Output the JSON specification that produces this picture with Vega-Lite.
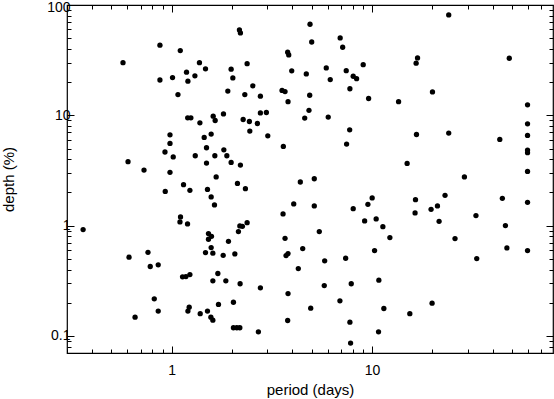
{
  "$schema": "https://vega.github.io/schema/vega-lite/v6.json",
  "width": 486,
  "height": 348,
  "autosize": {"type": "none"},
  "padding": {"left": 67, "top": 5, "right": 1, "bottom": 46},
  "background": "white",
  "config": {
    "view": {"stroke": "black", "strokeWidth": 1.2},
    "axis": {
      "domain": false, "grid": false, "tickColor": "black", "tickWidth": 1,
      "labelColor": "black", "labelFont": "Liberation Sans", "labelFontSize": 14,
      "titleFont": "Liberation Sans", "titleFontSize": 15, "titleFontWeight": "normal", "titleColor": "black"
    }
  },
  "data": {"values": [
    {"p":0.873,"d":43.2},{"p":1.103,"d":38.6},{"p":0.571,"d":30.0},{"p":1.185,"d":24.6},{"p":0.873,"d":20.9},
    {"p":1.009,"d":22.0},{"p":1.204,"d":20.4},{"p":1.074,"d":15.4},{"p":1.201,"d":9.49},{"p":1.246,"d":9.49},
    {"p":0.980,"d":6.66},{"p":0.980,"d":5.56},{"p":0.925,"d":4.65},{"p":1.017,"d":4.19},{"p":0.605,"d":3.80},
    {"p":0.727,"d":3.19},{"p":0.980,"d":3.04},{"p":1.145,"d":2.35},{"p":1.232,"d":2.09},{"p":0.928,"d":2.04},
    {"p":1.106,"d":1.199},{"p":1.099,"d":1.080},{"p":1.199,"d":1.036},{"p":0.361,"d":0.920},{"p":0.612,"d":0.517},
    {"p":0.761,"d":0.573},{"p":0.781,"d":0.426},{"p":0.856,"d":0.441},{"p":1.132,"d":0.343},{"p":1.177,"d":0.345},
    {"p":1.232,"d":0.360},{"p":0.818,"d":0.217},{"p":0.856,"d":0.168},{"p":0.656,"d":0.148},{"p":1.204,"d":0.168},
    {"p":1.222,"d":0.182},
    {"p":2.177,"d":59.4},{"p":2.202,"d":55.8},{"p":4.90,"d":66.9},{"p":4.996,"d":46.2},{"p":3.79,"d":37.3},
    {"p":3.837,"d":35.3},{"p":1.375,"d":30.0},{"p":1.474,"d":26.4},{"p":1.305,"d":22.8},{"p":1.979,"d":26.2},
    {"p":2.018,"d":21.8},{"p":2.378,"d":29.4},{"p":3.971,"d":25.3},{"p":4.695,"d":23.7},{"p":2.539,"d":18.5},
    {"p":1.905,"d":16.6},{"p":2.316,"d":15.4},{"p":2.770,"d":14.9},{"p":3.553,"d":16.8},{"p":3.677,"d":16.4},
    {"p":3.806,"d":13.3},{"p":4.882,"d":15.2},{"p":4.842,"d":11.1},{"p":4.610,"d":9.43},{"p":1.382,"d":8.55},
    {"p":1.610,"d":9.83},{"p":1.647,"d":8.97},{"p":1.812,"d":10.3},{"p":2.272,"d":9.16},{"p":2.441,"d":8.79},
    {"p":2.770,"d":10.5},{"p":2.967,"d":10.6},{"p":2.676,"d":8.43},{"p":2.453,"d":7.19},{"p":3.016,"d":6.52},
    {"p":1.452,"d":6.30},{"p":1.573,"d":6.76},{"p":1.491,"d":5.08},{"p":1.310,"d":4.30},{"p":1.641,"d":4.30},
    {"p":1.820,"d":4.87},{"p":1.884,"d":4.30},{"p":1.491,"d":3.69},{"p":1.979,"d":3.74},{"p":2.202,"d":3.54},
    {"p":3.606,"d":5.22},{"p":1.666,"d":2.76},{"p":1.508,"d":2.13},{"p":2.128,"d":2.41},{"p":2.332,"d":2.16},
    {"p":1.573,"d":1.818},{"p":1.634,"d":1.539},{"p":4.383,"d":2.486},{"p":4.063,"d":1.572},{"p":3.594,"d":1.276},
    {"p":1.525,"d":0.846},{"p":1.579,"d":0.800},{"p":1.525,"d":0.752},{"p":2.152,"d":0.882},{"p":2.187,"d":0.994},
    {"p":2.253,"d":0.986},{"p":2.378,"d":1.064},{"p":1.919,"d":0.721},{"p":1.573,"d":0.632},{"p":1.474,"d":0.570},
    {"p":1.604,"d":0.562},{"p":1.806,"d":0.538},{"p":2.065,"d":0.554},{"p":3.677,"d":0.767},{"p":4.505,"d":0.619},
    {"p":3.720,"d":0.535},{"p":3.806,"d":0.558},{"p":4.283,"d":0.408},{"p":1.699,"d":0.368},{"p":1.604,"d":0.316},
    {"p":1.862,"d":0.316},{"p":2.194,"d":0.297},{"p":2.770,"d":0.273},{"p":3.806,"d":0.242},{"p":1.711,"d":0.193},
    {"p":2.032,"d":0.202},{"p":1.387,"d":0.159},{"p":1.508,"d":0.168},{"p":1.568,"d":0.148},{"p":1.604,"d":0.139},
    {"p":2.032,"d":0.1186},{"p":2.113,"d":0.1186},{"p":2.187,"d":0.1186},{"p":2.707,"d":0.109},{"p":3.79,"d":0.138},
    {"p":4.939,"d":0.1785},
    {"p":6.93,"d":50.3},{"p":7.13,"d":41.4},{"p":5.906,"d":26.9},{"p":6.183,"d":21.1},{"p":7.43,"d":25.4},
    {"p":9.03,"d":28.8},{"p":8.05,"d":22.6},{"p":8.37,"d":21.5},{"p":7.75,"d":17.4},{"p":9.61,"d":14.2},
    {"p":13.56,"d":13.3},{"p":16.86,"d":33.1},{"p":16.59,"d":29.7},{"p":6.04,"d":9.63},{"p":7.73,"d":7.39},
    {"p":7.46,"d":5.49},{"p":16.66,"d":6.70},{"p":14.96,"d":3.66},{"p":5.146,"d":2.66},{"p":5.146,"d":1.508},
    {"p":8.05,"d":1.425},{"p":9.53,"d":1.559},{"p":10.01,"d":1.781},{"p":9.18,"d":1.103},{"p":10.48,"d":1.150},
    {"p":11.32,"d":0.979},{"p":12.27,"d":0.779},{"p":16.47,"d":1.719},{"p":16.39,"d":1.303},{"p":5.451,"d":0.882},
    {"p":5.799,"d":0.479},{"p":7.38,"d":0.506},{"p":10.29,"d":0.594},{"p":5.772,"d":0.286},{"p":7.87,"d":0.297},
    {"p":10.81,"d":0.320},{"p":6.91,"d":0.208},{"p":11.45,"d":0.1773},{"p":15.43,"d":0.159},{"p":7.75,"d":0.1333},
    {"p":10.77,"d":0.109},{"p":7.81,"d":0.0861},
    {"p":24.13,"d":81.2},{"p":48.4,"d":32.9},{"p":20.02,"d":16.3},{"p":59.7,"d":12.45},{"p":59.7,"d":8.38},
    {"p":59.7,"d":6.57},{"p":24.13,"d":6.90},{"p":43.4,"d":6.04},{"p":59.7,"d":4.84},{"p":59.7,"d":4.58},
    {"p":59.7,"d":3.10},{"p":28.9,"d":2.76},{"p":19.70,"d":1.404},{"p":21.20,"d":1.508},{"p":23.13,"d":1.880},
    {"p":21.60,"d":1.094},{"p":25.94,"d":0.763},{"p":33.0,"d":1.232},{"p":33.3,"d":0.503},{"p":44.7,"d":1.766},
    {"p":46.3,"d":1.0},{"p":47.1,"d":0.628},{"p":59.7,"d":1.625},{"p":59.7,"d":0.594},{"p":19.93,"d":0.198}
  ]},
  "resolve": {"axis": {"x": "independent", "y": "independent"}},
  "layer": [
    {
      "mark": {"type": "circle", "size": 28, "color": "black", "opacity": 1},
      "encoding": {
        "x": {"field": "p", "type": "quantitative",
          "scale": {"type": "log", "domain": [0.3, 80], "nice": false},
          "axis": {"orient": "bottom", "title": "period (days)", "titlePadding": 5,
            "values": [0.3,0.4,0.5,0.6,0.7,0.8,0.9,1,2,3,4,5,6,7,8,9,10,20,30,40,50,60,70],
            "labelExpr": "datum.value == 1 || datum.value == 10 ? datum.value + '' : ''",
            "tickSize": {"condition": {"test": "datum.value == 1 || datum.value == 10", "value": -7}, "value": -4},
            "labelPadding": 17}},
        "y": {"field": "d", "type": "quantitative",
          "scale": {"type": "log", "domain": [0.07, 100], "nice": false},
          "axis": {"orient": "left", "title": "depth (%)", "titlePadding": 30,
            "values": [0.07,0.08,0.09,0.1,0.2,0.3,0.4,0.5,0.6,0.7,0.8,0.9,1,2,3,4,5,6,7,8,9,10,20,30,40,50,60,70,80,90,100],
            "labelExpr": "datum.value == 0.1 || datum.value == 1 || datum.value == 10 || datum.value == 100 ? datum.value + '' : ''",
            "tickSize": {"condition": {"test": "datum.value == 0.1 || datum.value == 1 || datum.value == 10 || datum.value == 100", "value": -7}, "value": -4},
            "labelOffset": {"condition": {"test": "datum.value == 100", "value": 2.5}, "value": 0},
            "labelPadding": 4}}
      }
    },
    {
      "mark": {"type": "circle", "size": 28, "opacity": 0},
      "encoding": {
        "x": {"field": "p", "type": "quantitative",
          "scale": {"type": "log", "domain": [0.3, 80], "nice": false},
          "axis": {"orient": "top", "title": null, "labels": false,
            "values": [0.3,0.4,0.5,0.6,0.7,0.8,0.9,1,2,3,4,5,6,7,8,9,10,20,30,40,50,60,70],
            "tickSize": {"condition": {"test": "datum.value == 1 || datum.value == 10", "value": -7}, "value": -4}}},
        "y": {"field": "d", "type": "quantitative",
          "scale": {"type": "log", "domain": [0.07, 100], "nice": false},
          "axis": {"orient": "right", "title": null, "labels": false,
            "values": [0.07,0.08,0.09,0.1,0.2,0.3,0.4,0.5,0.6,0.7,0.8,0.9,1,2,3,4,5,6,7,8,9,10,20,30,40,50,60,70,80,90,100],
            "tickSize": {"condition": {"test": "datum.value == 0.1 || datum.value == 1 || datum.value == 10 || datum.value == 100", "value": -7}, "value": -4}}}
      }
    }
  ]
}
